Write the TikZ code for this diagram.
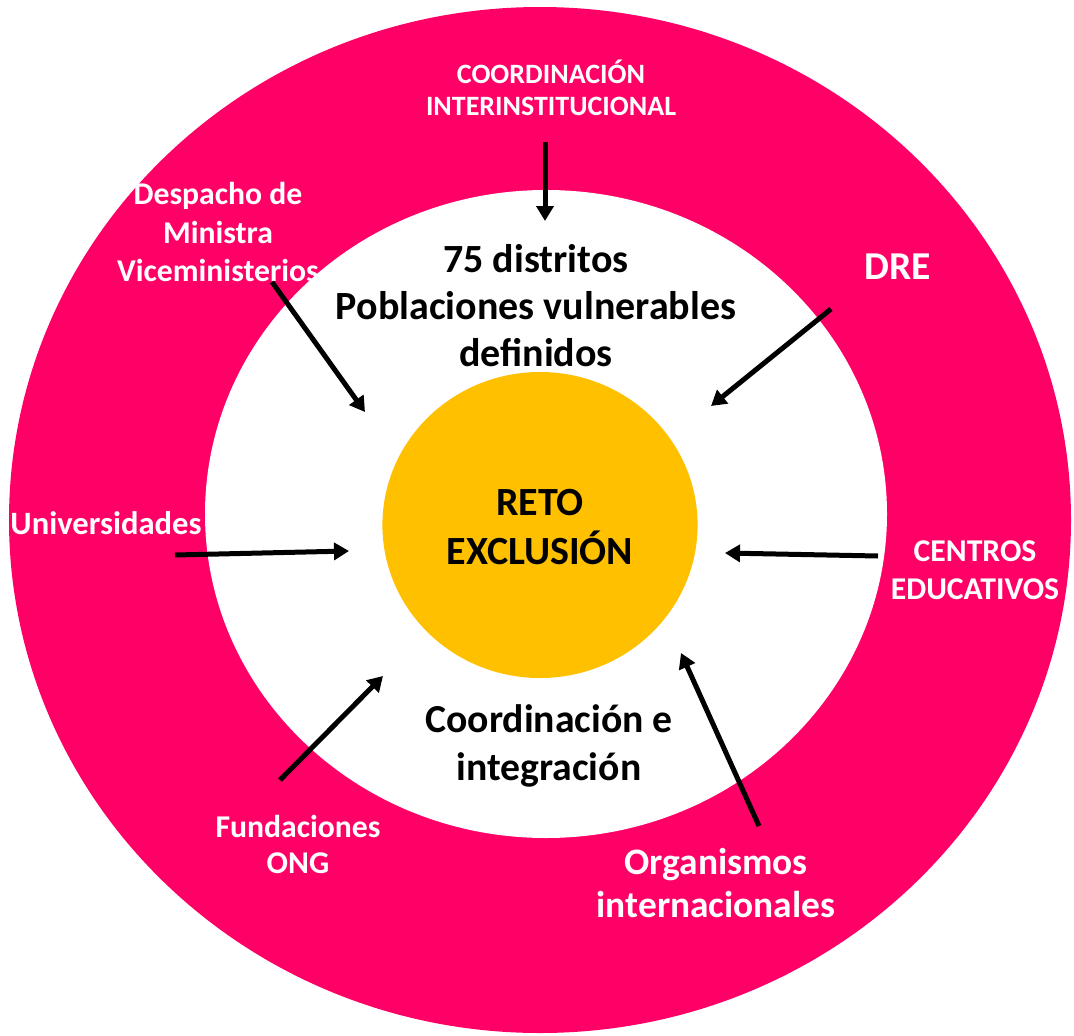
\documentclass[tikz,border=0pt]{standalone}
\usepackage{fontspec}
\setmainfont{Carlito}
\usepackage{tikz}
\usetikzlibrary{arrows.meta}
\definecolor{ringMagenta}{HTML}{FF0066}
\definecolor{coreYellow}{HTML}{FFC000}
\newcommand\ringColor{ringMagenta}
\newcommand\coreColor{coreYellow}
\newcommand\arrowColor{black}
\newcommand\arrowLineWidth{5pt}
\tikzset{
    actor/.style={text=white, font=\bfseries, align=center, anchor=center, inner sep=0pt},
    inside/.style={text=black, font=\bfseries, align=center, anchor=center, inner sep=0pt},
    push/.style={draw=\arrowColor, line width=\arrowLineWidth, -{Triangle[width=17pt,length=15pt]}}
}

\begin{document}
\begin{tikzpicture}[x=1pt,y=-1pt]

    \useasboundingbox (0,0) rectangle (1074,1036);

    % rings
    \fill[\ringColor] (540,520) ellipse [x radius=531, y radius=513];
    \fill[white] (546,514) ellipse [x radius=341, y radius=324];
    \node (Reto_Core) [fill=\coreColor, shape=circle, minimum size=306pt, inner sep=0pt, xscale=1.03, anchor=center] at (540,525) {};

    % texts
    \node (Reto_Text) [inside, font=\bfseries\fontsize{40}{49}\selectfont] at (540,527) {RETO\\EXCLUSIÓN};
    \node (Distritos) [inside, font=\bfseries\fontsize{40}{47}\selectfont] at (536,306) {75 distritos\\Poblaciones vulnerables\\definidos};
    \node (Integracion) [inside, font=\bfseries\fontsize{39.7}{48}\selectfont] at (549,746) {Coordinación e\\integración};

    \node (Coord_Inter) [actor, font=\bfseries\fontsize{28}{32}\selectfont] at (551,88) {COORDINACIÓN\\INTERINSTITUCIONAL};
    \node (Despacho) [actor, font=\bfseries\fontsize{31.7}{38.5}\selectfont] at (218,232) {Despacho de\\Ministra\\Viceministerios};
    \node (DRE) [actor, font=\bfseries\fontsize{39.5}{44}\selectfont] at (898,267) {DRE};
    \node (Universidades) [actor, font=\bfseries\fontsize{32.6}{36}\selectfont] at (106,523) {Universidades};
    \node (Centros) [actor, font=\bfseries\fontsize{31.7}{38}\selectfont] at (975,570) {CENTROS\\EDUCATIVOS};
    \node (Fundaciones) [actor, font=\bfseries\fontsize{31.7}{36}\selectfont] at (298,844) {Fundaciones\\ONG};
    \node (Organismos) [actor, font=\bfseries\fontsize{37.4}{43}\selectfont] at (716,883) {Organismos\\internacionales};

    % arrow ends
    \coordinate (Coord_Inter_Start) at (545,142);
    \coordinate (Coord_Inter_End) at (545,221);
    \coordinate (Despacho_Start) at (272,282);
    \coordinate (Despacho_End) at (365,412);
    \coordinate (DRE_Start) at (831,309);
    \coordinate (DRE_End) at (711,406);
    \coordinate (Universidades_Start) at (175,555);
    \coordinate (Universidades_End) at (349,551);
    \coordinate (Centros_Start) at (878,556);
    \coordinate (Centros_End) at (725,553);
    \coordinate (Fundaciones_Start) at (280,780);
    \coordinate (Fundaciones_End) at (383,676);
    \coordinate (Organismos_Start) at (759,826);
    \coordinate (Organismos_End) at (681,653);

    \draw [push] (Coord_Inter_Start) -- (Coord_Inter_End);
    \draw [push] (Despacho_Start) -- (Despacho_End);
    \draw [push] (DRE_Start) -- (DRE_End);
    \draw [push] (Universidades_Start) -- (Universidades_End);
    \draw [push] (Centros_Start) -- (Centros_End);
    \draw [push] (Fundaciones_Start) -- (Fundaciones_End);
    \draw [push] (Organismos_Start) -- (Organismos_End);

\end{tikzpicture}
\end{document}
